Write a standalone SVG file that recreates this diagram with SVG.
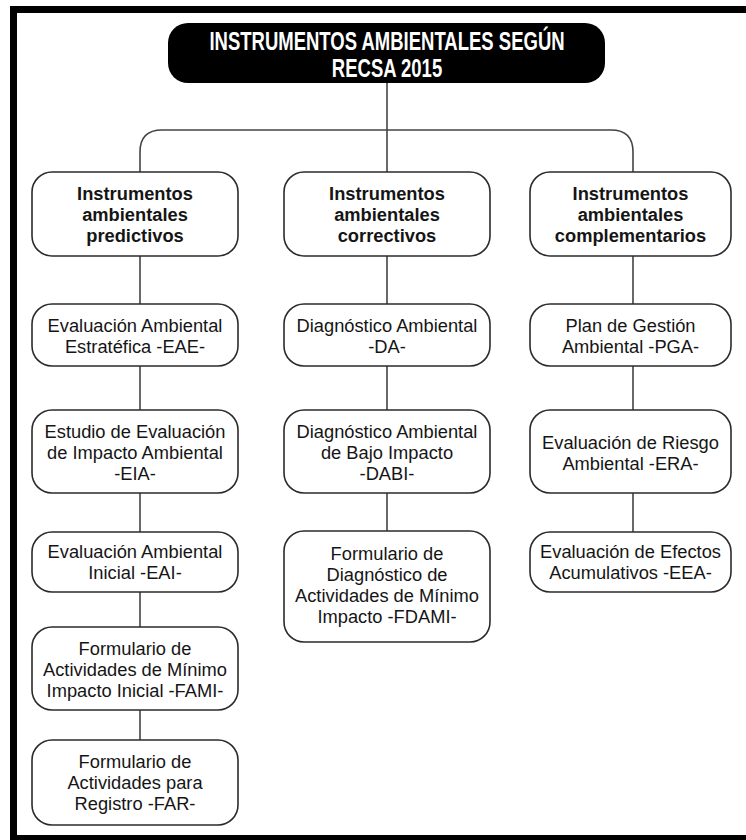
<svg xmlns="http://www.w3.org/2000/svg" width="746" height="840" viewBox="0 0 746 840">
<style>
.box{fill:#fff;stroke:#2b2b2b;stroke-width:1.6}
.t{font-family:"Liberation Sans",Arial,sans-serif;font-size:18.3px;fill:#151515;text-anchor:middle}
.b{font-weight:bold}
.title{font-family:"Liberation Sans",Arial,sans-serif;font-size:25px;font-weight:bold;fill:#fff;text-anchor:middle}
.c{fill:none;stroke:#444;stroke-width:1.6}
</style>
<rect x="0" y="0" width="746" height="840" fill="#fff"/>
<rect x="13.5" y="9.5" width="750" height="829" fill="none" stroke="#000" stroke-width="7"/>
<g id="connectors">
<path class="c" d="M387,83 V172"/>
<path class="c" d="M140,172 V152 Q140,130 162,130 H611 Q633,130 633,152 V172"/>
<path class="c" d="M140,256 V304 M140,366 V410 M140,493 V532 M140,592 V627 M140,710 V740"/>
<path class="c" d="M387,256 V304 M387,366 V410 M387,493 V531"/>
<path class="c" d="M633,256 V304 M633,366 V410 M633,493 V532"/>
</g>
<g id="title">
<rect x="168" y="23" width="437" height="60" rx="20" fill="#000"/>
<g transform="translate(387,0) scale(0.74,1)">
<text class="title" x="0" y="50">INSTRUMENTOS AMBIENTALES SEGÚN</text>
<text class="title" x="0" y="77">RECSA 2015</text>
</g>
</g>
<g id="predictivos">
<rect class="box" x="32" y="172" width="206" height="84" rx="20"/>
<text class="t b" x="135" y="200">Instrumentos</text>
<text class="t b" x="135" y="221">ambientales</text>
<text class="t b" x="135" y="242">predictivos</text>
</g>
<g id="correctivos">
<rect class="box" x="284" y="172" width="206" height="84" rx="20"/>
<text class="t b" x="387" y="200">Instrumentos</text>
<text class="t b" x="387" y="221">ambientales</text>
<text class="t b" x="387" y="242">correctivos</text>
</g>
<g id="complementarios">
<rect class="box" x="530" y="172" width="201" height="84" rx="20"/>
<text class="t b" x="630.5" y="200">Instrumentos</text>
<text class="t b" x="630.5" y="221">ambientales</text>
<text class="t b" x="630.5" y="242">complementarios</text>
</g>
<g id="EAE">
<rect class="box" x="32" y="304" width="206" height="62" rx="20"/>
<text class="t" x="135" y="332">Evaluación Ambiental</text>
<text class="t" x="135" y="353">Estratéfica -EAE-</text>
</g>
<g id="EIA">
<rect class="box" x="32" y="410" width="206" height="83" rx="20"/>
<text class="t" x="135" y="438">Estudio de Evaluación</text>
<text class="t" x="135" y="459">de Impacto Ambiental</text>
<text class="t" x="135" y="480">-EIA-</text>
</g>
<g id="EAI">
<rect class="box" x="32" y="532" width="206" height="60" rx="20"/>
<text class="t" x="135" y="558">Evaluación Ambiental</text>
<text class="t" x="135" y="579">Inicial -EAI-</text>
</g>
<g id="FAMI">
<rect class="box" x="32" y="627" width="206" height="83" rx="20"/>
<text class="t" x="135" y="655">Formulario de</text>
<text class="t" x="135" y="676">Actividades de Mínimo</text>
<text class="t" x="135" y="697">Impacto Inicial -FAMI-</text>
</g>
<g id="FAR">
<rect class="box" x="32" y="740" width="206" height="85" rx="20"/>
<text class="t" x="135" y="768">Formulario de</text>
<text class="t" x="135" y="789">Actividades para</text>
<text class="t" x="135" y="810">Registro -FAR-</text>
</g>
<g id="DA">
<rect class="box" x="284" y="304" width="206" height="62" rx="20"/>
<text class="t" x="387" y="332">Diagnóstico Ambiental</text>
<text class="t" x="387" y="353">-DA-</text>
</g>
<g id="DABI">
<rect class="box" x="284" y="410" width="206" height="83" rx="20"/>
<text class="t" x="387" y="438">Diagnóstico Ambiental</text>
<text class="t" x="387" y="459">de Bajo Impacto</text>
<text class="t" x="387" y="480">-DABI-</text>
</g>
<g id="FDAMI">
<rect class="box" x="284" y="531" width="206" height="111" rx="20"/>
<text class="t" x="387" y="560">Formulario de</text>
<text class="t" x="387" y="581">Diagnóstico de</text>
<text class="t" x="387" y="602">Actividades de Mínimo</text>
<text class="t" x="387" y="623">Impacto -FDAMI-</text>
</g>
<g id="PGA">
<rect class="box" x="530" y="304" width="201" height="62" rx="20"/>
<text class="t" x="630.5" y="332">Plan de Gestión</text>
<text class="t" x="630.5" y="353">Ambiental -PGA-</text>
</g>
<g id="ERA">
<rect class="box" x="530" y="410" width="201" height="83" rx="20"/>
<text class="t" x="630.5" y="449">Evaluación de Riesgo</text>
<text class="t" x="630.5" y="470">Ambiental -ERA-</text>
</g>
<g id="EEA">
<rect class="box" x="530" y="532" width="201" height="60" rx="20"/>
<text class="t" x="630.5" y="558">Evaluación de Efectos</text>
<text class="t" x="630.5" y="579">Acumulativos -EEA-</text>
</g>
</svg>
